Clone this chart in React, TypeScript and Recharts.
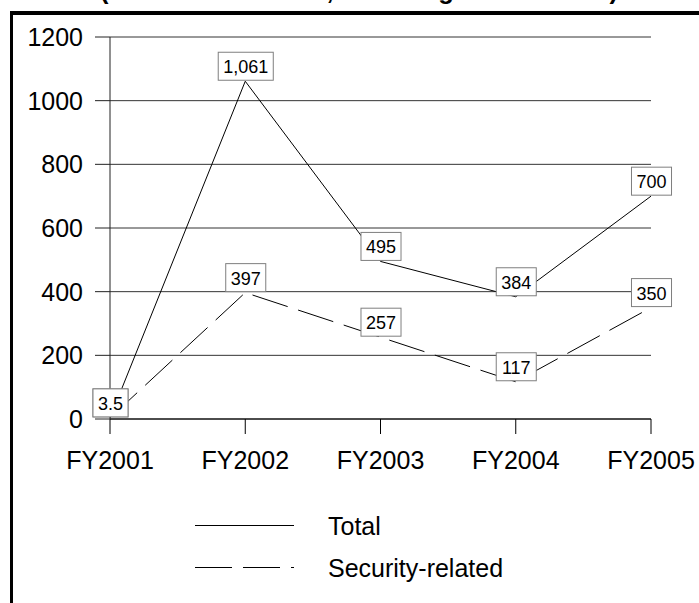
import React from 'react';
import { LineChart, Line, XAxis, YAxis, CartesianGrid, LabelList } from 'recharts';

const years = ['FY2001', 'FY2002', 'FY2003', 'FY2004', 'FY2005'];
const totalValues = [3.5, 1061, 495, 384, 700];
const securityValues = [3.5, 397, 257, 117, 350];
const yTicks = [0, 200, 400, 600, 800, 1000, 1200];

const data = years.map((year, i) => ({
  year,
  total: totalValues[i],
  security: securityValues[i],
}));

const FONT = 'Arial, "Liberation Sans", sans-serif';

// rough Arial widths so the box hugs the number
const textWidth = (s: string, size: number) =>
  s.split('').reduce((w, c) => w + (c === ',' || c === '.' ? 0.278 : 0.556), 0) * size;

const BoxLabel = (props: any) => {
  const { x, y, value } = props;
  if (x == null || y == null || value == null) return null;
  const text = Number(value).toLocaleString('en-US');
  const w = textWidth(text, 18) + 10;
  const h = 28;
  return (
    <g>
      <rect x={x - w / 2 + 0.5} y={y - h - 1} width={w} height={h} fill="#fff" stroke="#7f7f7f" strokeWidth={1} />
      <text x={x + 0.5} y={y - h - 1 + 21} textAnchor="middle" fontSize={18} fill="#000" fontFamily={FONT}>
        {text}
      </text>
    </g>
  );
};

const App = () => {
  return (
    <div style={{ position: 'absolute', left: 0, top: 0, width: 699, height: 603, overflow: 'hidden', background: '#fff', fontFamily: FONT }}>
      <LineChart width={699} height={603} data={data} margin={{ top: 37, right: 48, bottom: 0, left: 0 }}>
        <CartesianGrid vertical={false} stroke="#333" />
        <XAxis
          dataKey="year"
          height={184}
          interval={0}
          tickSize={15}
          tickMargin={17}
          stroke="#000"
          tick={{ fill: '#000', fontSize: 25 }}
          padding={{ left: 0, right: 0 }}
        />
        <YAxis
          width={110}
          domain={[0, 1200]}
          ticks={yTicks}
          interval={0}
          tickSize={15}
          tickMargin={12}
          stroke="#222"
          tick={{ fill: '#000', fontSize: 25 }}
        />
        <Line type="linear" dataKey="total" stroke="#000" strokeWidth={1} dot={false} isAnimationActive={false}>
          <LabelList dataKey="total" content={BoxLabel} />
        </Line>
        <Line type="linear" dataKey="security" stroke="#000" strokeWidth={1} strokeDasharray="37 11" dot={false} isAnimationActive={false}>
          <LabelList dataKey="security" content={BoxLabel} />
        </Line>
      </LineChart>
      <svg width={699} height={603} style={{ position: 'absolute', left: 0, top: 0, pointerEvents: 'none' }}>
        <text x={359} y={-1} textAnchor="middle" fontSize={25} fontWeight="bold" fill="#000" textLength={518} lengthAdjust="spacingAndGlyphs">
          (Dollars in Millions, Including Rescissions)
        </text>
        <rect x={10} y={11} width={700} height={4} fill="#000" />
        <rect x={10} y={11} width={3} height={600} fill="#000" />
        <line x1={195} x2={294} y1={525.5} y2={525.5} stroke="#000" strokeWidth={1} />
        <text x={328} y={535} fontSize={25} fill="#000">Total</text>
        <line x1={195} x2={294} y1={567.5} y2={567.5} stroke="#000" strokeWidth={1} strokeDasharray="37 11" />
        <text x={328} y={577} fontSize={25} fill="#000">Security-related</text>
      </svg>
    </div>
  );
};

export default App;
